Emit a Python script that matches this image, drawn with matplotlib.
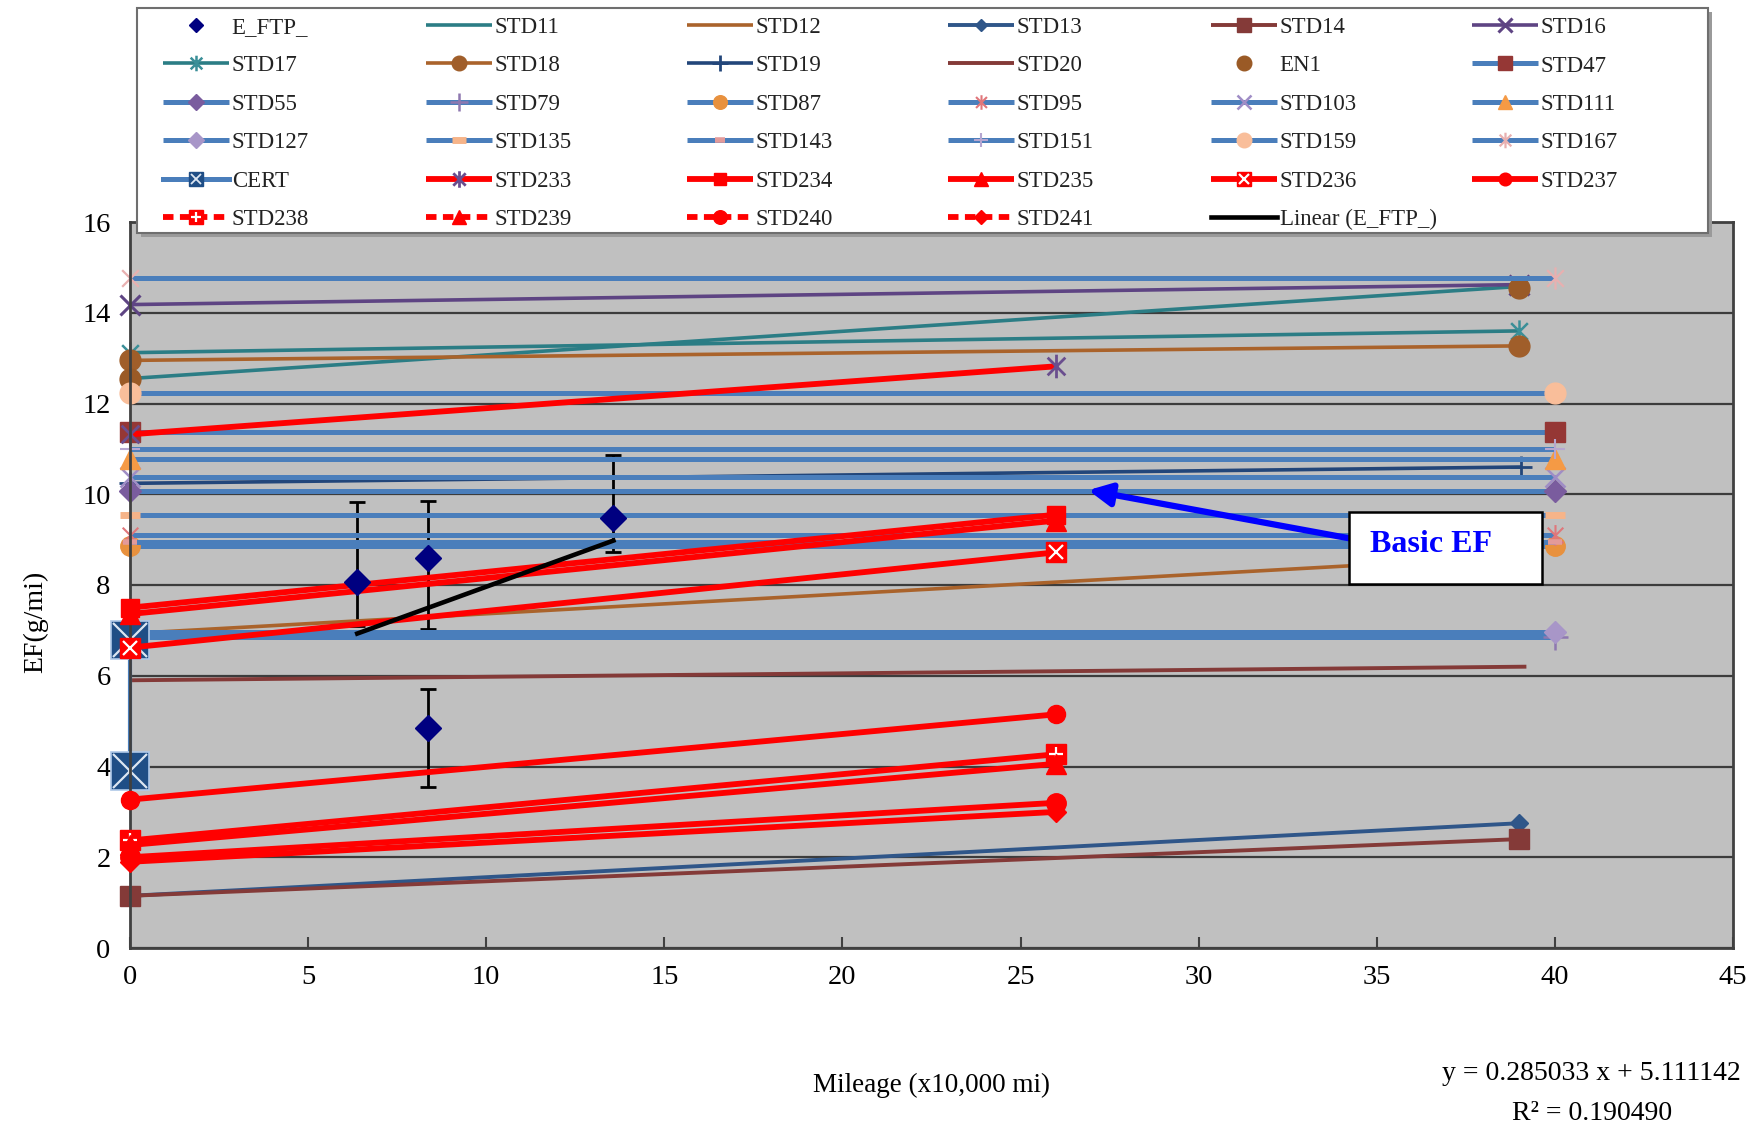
import numpy as np
import matplotlib.pyplot as plt
from matplotlib.lines import Line2D
from matplotlib.patches import Rectangle
from matplotlib.path import Path

plt.rcParams["font.family"] = ["Liberation Serif", "DejaVu Serif"]

# E_FTP_ measurements (mileage in 10,000 mi, EF in g/mi) with error bar ends
eftp_x = [6.38, 8.37, 13.57, 8.37]
eftp_y = [8.06, 8.59, 9.47, 4.85]
eftp_low = [7.10, 7.02, 8.72, 3.55]
eftp_high = [9.82, 9.85, 10.86, 5.70]

# linear fit of E_FTP_
trend_slope = 0.285033
trend_intercept = 5.111142
trend_r2 = 0.190490

en1_x = [0, 39, 0]
en1_y = [12.55, 14.55, 6.85]

cert_x = [0, 0]
cert_y = [6.78, 3.90]

# two-point standards: start and end of each line
std_names = ["STD11", "STD12", "STD13", "STD14", "STD16", "STD17", "STD18", "STD19", "STD20",
             "STD47", "STD55", "STD79", "STD87", "STD95", "STD103", "STD111", "STD127",
             "STD135", "STD143", "STD151", "STD159", "STD167",
             "STD233", "STD234", "STD235", "STD236", "STD237", "STD238", "STD239", "STD240", "STD241"]
std_x0 = [0] * 31
std_x1 = [39, 39, 39, 39, 39, 39, 39, 39.05, 39.2,
          40, 40, 40, 40, 40, 40, 40, 40, 40, 40, 40, 40, 40,
          26, 26, 26, 26, 26, 26, 26, 26, 26]
std_y0 = [12.55, 6.93, 1.15, 1.15, 14.18, 13.12, 12.95, 10.24, 5.90,
          11.38, 10.07, 6.86, 8.86, 9.10, 10.37, 10.78, 6.97, 9.54, 8.95, 10.99, 12.24, 14.76,
          11.32, 7.50, 7.36, 6.62, 3.27, 2.37, 2.27, 2.00, 1.90]
std_y1 = [14.58, 8.63, 2.75, 2.40, 14.62, 13.60, 13.27, 10.60, 6.20,
          11.38, 10.07, 6.86, 8.86, 9.10, 10.37, 10.78, 6.97, 9.54, 8.95, 10.99, 12.24, 14.76,
          12.82, 9.55, 9.42, 8.72, 5.15, 4.27, 4.06, 3.20, 3.00]

legend_labels = ["E_FTP_", "STD11", "STD12", "STD13", "STD14", "STD16",
                 "STD17", "STD18", "STD19", "STD20", "EN1", "STD47",
                 "STD55", "STD79", "STD87", "STD95", "STD103", "STD111",
                 "STD127", "STD135", "STD143", "STD151", "STD159", "STD167",
                 "CERT", "STD233", "STD234", "STD235", "STD236", "STD237",
                 "STD238", "STD239", "STD240", "STD241", "Linear (E_FTP_)"]

asterisk = Path([(0, -1), (0, 1), (-0.75, -0.75), (0.75, 0.75), (-0.75, 0.75), (0.75, -0.75)],
                [Path.MOVETO, Path.LINETO] * 3)

TEAL = "#2B7D85"
BROWN = "#AA632B"
MAROON = "#843A38"
PURPLE = "#5E4483"
BLUE = "#4A7EBB"
RED = "#FF0000"

# line colour, line width, marker, marker size, marker colour, marker edge width, overlay
std_style = {
    "STD11": (TEAL, 2.6, None, 0, None, 1, None),
    "STD12": (BROWN, 2.6, None, 0, None, 1, None),
    "STD13": ("#2F5689", 2.8, "D", 9, "#2F5689", 1, None),
    "STD14": (MAROON, 2.8, "s", 14, MAROON, 1, None),
    "STD16": (PURPLE, 2.6, "x", 14, PURPLE, 2.2, None),
    "STD17": (TEAL, 2.6, asterisk, 16, "#3A8F98", 1.8, None),
    "STD18": (BROWN, 2.6, "o", 15, "#A05E2A", 1, None),
    "STD19": ("#22467A", 2.6, "+", 16, "#22467A", 2, None),
    "STD20": (MAROON, 2.8, None, 0, None, 1, None),
    "STD47": (BLUE, 3.6, "s", 15, "#953735", 1, None),
    "STD55": (BLUE, 3.6, "D", 11, "#7A5C9E", 1, None),
    "STD79": (BLUE, 3.6, "+", 18, "#8E78B0", 1.8, None),
    "STD87": (BLUE, 3.6, "o", 14, "#E8913E", 1, None),
    "STD95": (BLUE, 3.6, asterisk, 15, "#E0767A", 1.5, None),
    "STD103": (BLUE, 3.6, "x", 14, "#A08DC6", 1.8, None),
    "STD111": (BLUE, 3.6, "^", 14, "#F59A45", 1, None),
    "STD127": (BLUE, 3.6, "D", 11, "#A896C8", 1, None),
    "STD135": (BLUE, 3.6, "_", 14, "#F6B489", 5, None),
    "STD143": (BLUE, 3.6, "_", 10, "#E39A9A", 4, None),
    "STD151": (BLUE, 3.6, "+", 15, "#B6A6D0", 1.5, None),
    "STD159": (BLUE, 3.6, "o", 15, "#F9BE9A", 1, None),
    "STD167": (BLUE, 3.6, asterisk, 16, "#E8B0B0", 1.6, None),
    "STD233": (RED, 4.2, asterisk, 17, "#6A4E8E", 2, None),
    "STD234": (RED, 4.2, "s", 13, RED, 1, None),
    "STD235": (RED, 4.2, "^", 14, RED, 1, None),
    "STD236": (RED, 4.2, "s", 14, RED, 1, "x"),
    "STD237": (RED, 4.2, "o", 13, RED, 1, None),
    "STD238": (RED, 4.2, "s", 14, RED, 1, "+"),
    "STD239": (RED, 4.2, "^", 14, RED, 1, None),
    "STD240": (RED, 4.2, "o", 14, RED, 1, None),
    "STD241": (RED, 4.2, "D", 10, RED, 1, None),
}
dashed = {"STD238", "STD239", "STD240", "STD241"}

W, H = 1758, 1128
fig = plt.figure(figsize=(W / 100, H / 100), dpi=100)
ax = fig.add_axes([130 / W, 180 / H, 1603 / W, 726 / H])
ax.set_facecolor("#C0C0C0")
ax.set_xlim(0, 45)
ax.set_ylim(0, 16)
ax.set_xticks(np.arange(0, 46, 5))
ax.set_yticks(np.arange(0, 17, 2))
ax.grid(axis="y", color="#3C3C3C", lw=1.6)
ax.set_axisbelow(True)
for sp in ax.spines.values():
    sp.set_color("#404040")
    sp.set_linewidth(2)
ax.tick_params(axis="x", direction="in", length=8, width=1.5, pad=12, labelsize=20.5, color="#404040")
ax.tick_params(axis="y", length=0, pad=14, labelsize=20.5)

handles = {}

# error bars sit underneath the standard lines
ax.errorbar(eftp_x, eftp_y,
            yerr=[np.subtract(eftp_y, eftp_low), np.subtract(eftp_high, eftp_y)],
            fmt="none", ecolor="black", elinewidth=2, capsize=6, capthick=2, zorder=1.5)
handles["E_FTP_"] = Line2D([], [], ls="none", marker="D", ms=10, color="#000080")


def draw_std(name, z):
    i = std_names.index(name)
    color, lw, marker, ms, mcol, mew, overlay = std_style[name]
    xs = [std_x0[i], std_x1[i]]
    ys = [std_y0[i], std_y1[i]]
    ln, = ax.plot(xs, ys, color=color, lw=lw, marker=marker, ms=ms, mfc=mcol, mec=mcol,
                  mew=mew, clip_on=False, zorder=z, solid_capstyle="butt")
    legend_ln = ln
    if name in dashed:
        legend_ln = Line2D([], [], color=color, lw=lw, ls=(0, (1.8, 1.1)), marker=marker, ms=ms,
                           mfc=mcol, mec=mcol, mew=mew)
    if overlay:
        ax.plot(xs, ys, ls="none", marker=overlay, ms=ms * 0.75, mec="white", mew=1.6,
                clip_on=False, zorder=z + 0.01)
        handles[name] = (legend_ln, Line2D([], [], ls="none", marker=overlay, ms=ms * 0.75,
                                           mec="white", mew=1.6))
    else:
        handles[name] = legend_ln


z = 2.0
for name in ["STD11", "STD12", "STD13", "STD14", "STD16", "STD17", "STD18", "STD19", "STD20"]:
    draw_std(name, z)
    z += 0.02

handles["EN1"], = ax.plot(en1_x, en1_y, ls="none", marker="o", ms=15, color="#9A5A26",
                          clip_on=False, zorder=z)
z += 0.02

for name in ["STD47", "STD55", "STD79", "STD87", "STD95", "STD103", "STD111", "STD127",
             "STD135", "STD143", "STD151", "STD159", "STD167"]:
    draw_std(name, z)
    z += 0.02

ax.plot(cert_x, cert_y, color=BLUE, lw=3, marker="s", ms=28, mfc="#1F4E86",
        mec="#AFC8E8", mew=1.2, clip_on=False, zorder=z)
ax.plot(cert_x, cert_y, ls="none", marker="x", ms=24, mec="#DCE6F2", mew=1.6,
        clip_on=False, zorder=z + 0.01)
handles["CERT"] = (Line2D([], [], color=BLUE, lw=3.6, marker="s", ms=14, mfc="#1F4E86", mec="#1F4E86"),
                   Line2D([], [], ls="none", marker="x", ms=11, mec="#DCE6F2", mew=1.3))
z += 0.02

for name in ["STD233", "STD234", "STD235", "STD236", "STD237", "STD238", "STD239", "STD240", "STD241"]:
    draw_std(name, z)
    z += 0.02

# trend line over the range of the E_FTP_ data
fit_x = np.array([min(eftp_x), max(eftp_x)])
handles["Linear (E_FTP_)"], = ax.plot(fit_x, trend_slope * fit_x + trend_intercept,
                                      color="black", lw=3.3, zorder=z)
ax.plot(eftp_x, eftp_y, ls="none", marker="D", ms=13, color="#000080", zorder=z + 0.1)

# annotation box pointing at the basic emission factors
ax.add_patch(Rectangle((34.22, 8.02), 5.42, 1.58, fc="white", ec="black", lw=1.8, zorder=10))
ax.text(34.8, 8.9, "Basic EF", color="#0000FF", fontsize=23, fontweight="bold",
        ha="left", va="center", zorder=11)
ax.annotate("", xy=(26.9, 10.09), xytext=(34.22, 9.03),
            arrowprops=dict(arrowstyle="-|>", color="#0000FF", lw=4.5, mutation_scale=34,
                            shrinkA=0, shrinkB=0), zorder=9)

ax.set_xlabel("Mileage (x10,000 mi)", fontsize=19.5, labelpad=60)
ax.set_ylabel("EF(g/mi)", fontsize=20)
ax.yaxis.set_label_coords(-0.051, 0.449)

fig.text(1591 / W, 1 - 1074 / H, f"y = {trend_slope:.6f} x + {trend_intercept:.6f}",
         fontsize=20, ha="center", va="center")
fig.text(1592 / W, 1 - 1114 / H, f"R² = {trend_r2:.6f}", fontsize=20, ha="center", va="center")

# legend frame spanning the top of the chart, one legend per column
fig.add_artist(Rectangle((141 / W, 1 - 237 / H), 1571 / W, 225 / H, transform=fig.transFigure,
                         fc="#9A9A9A", ec="none", zorder=2.9))
fig.add_artist(Rectangle((137 / W, 1 - 233 / H), 1571 / W, 225 / H, transform=fig.transFigure,
                         fc="white", ec="#6F6F6F", lw=1.5, zorder=3))
col_left = [163, 426, 687, 948, 1211, 1472]
for c in range(6):
    labs = legend_labels[c::6]
    fig.legend([handles[l] for l in labs], labs, loc="upper left",
               bbox_to_anchor=(col_left[c] / W, 1 - 17 / H), bbox_transform=fig.transFigure,
               frameon=False, borderpad=0, borderaxespad=0, handlelength=2.9,
               handletextpad=0.1, labelspacing=0.76, fontsize=16.5, markerscale=0.7,
               numpoints=1, labelcolor="#222222")

fig.savefig("out.png", dpi=100)
